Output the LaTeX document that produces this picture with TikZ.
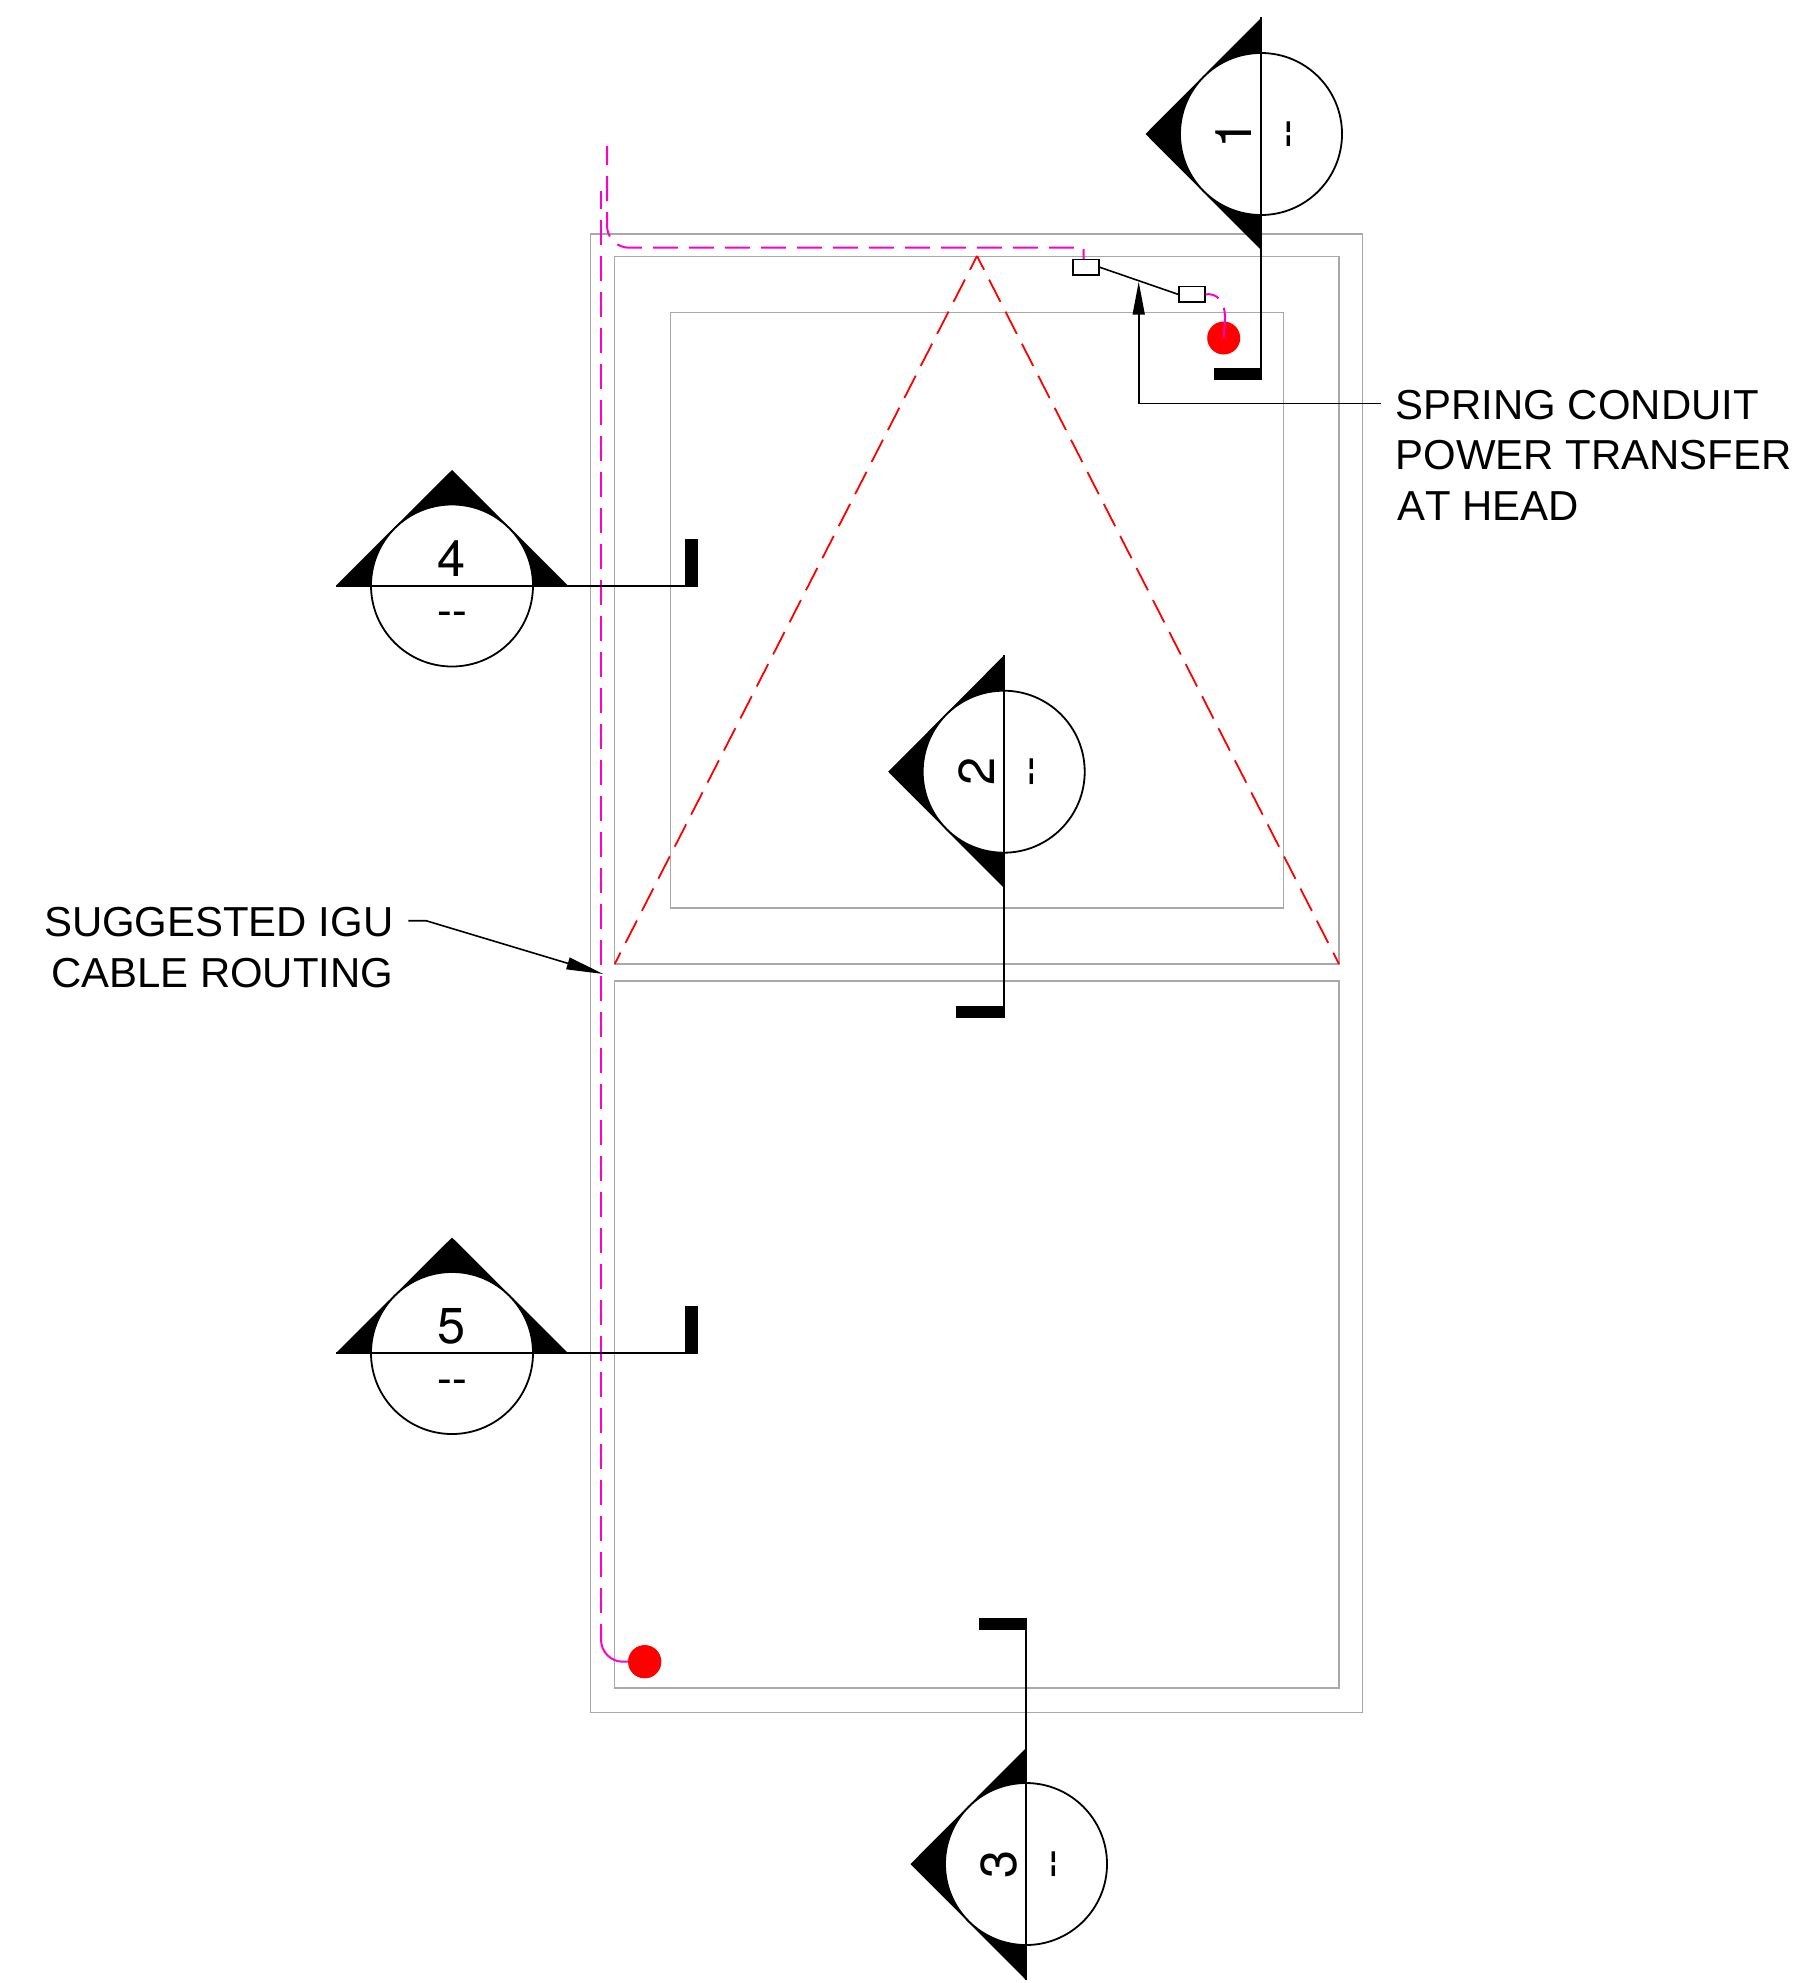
\documentclass[tikz,border=0pt]{standalone}
\usepackage{fontspec}
\setmainfont[Kerning=Off]{Liberation Sans}
\newfontfamily\digitfont{TeX Gyre Heros}
\usetikzlibrary{arrows.meta}
\definecolor{framegray}{HTML}{A8A8A8}
\definecolor{cablepink}{HTML}{FF00C8}
\definecolor{hotred}{HTML}{FF0000}
\tikzset{
  framebox/.style={draw=framegray,line width=1.5pt},
  redline/.style={draw=hotred,line width=1.8pt,dash pattern=on 25pt off 11pt},
  cable/.style={draw=cablepink,line width=2pt},
  seccircle/.style={circle,draw=black,fill=white,line width=1.8pt,minimum size=162pt,inner sep=0pt},
  secdigit/.style={inner sep=0pt,font=\digitfont\fontsize{50.5}{50}\selectfont},
  secdash/.style={inner sep=0pt,anchor=base,font=\fontsize{44}{44}\selectfont},
  secline/.style={draw=black,line width=2pt},
  leader/.style={draw=black,line width=1.6pt},
  notelabel/.style={inner sep=0pt,font=\fontsize{41.9}{50.6}\selectfont},
  connbox/.style={draw=black,fill=white,line width=1.6pt,minimum width=26pt,minimum height=15.5pt,inner sep=0pt},
  hotdot/.style={circle,fill=hotred,minimum size=33pt,inner sep=0pt},
}
\newcommand{\vmarker}[4]{%
  \fill[black] (#2,#3-116)--(#2-115.5,#3)--(#2,#3+116)--cycle;
  \node[seccircle] (#1) at (#2,#3) {};
  \node[secdigit,rotate=90] (#1num) at (#2-27,#3) {#4};
  \node[secdash,rotate=90] (#1sheet) at (#2+27.7+12,#3) {-{}-};
}
\newcommand{\hmarker}[4]{%
  \fill[black] (#2-116,#3)--(#2,#3-115.5)--(#2+116,#3)--cycle;
  \node[seccircle] (#1) at (#2,#3) {};
  \node[secdigit] (#1num) at (#2,#3-26.5) {#4};
  \node[secdash] (#1sheet) at (#2,#3+28+12) {-{}-};
}
\begin{document}
\begin{tikzpicture}[x=1pt,y=-1pt]
\useasboundingbox (0,0) rectangle (1813,1983);
\fill[white] (0,0) rectangle (1813,1983);
% frames
\draw[framebox] (590.7,234) rectangle (1362.7,1712.7);
\draw[framebox] (614.7,256.7) rectangle (1339,964);
\draw[framebox] (670.3,312.7) rectangle (1283.3,908);
\draw[framebox] (614.7,981) rectangle (1339,1688);
% red triangle
\coordinate (apex) at (977,256);
\coordinate (baseL) at (614.7,964);
\coordinate (baseR) at (1339,964);
\draw[redline,dash phase=9.5pt] (apex) -- (baseL);
\draw[redline,dash phase=9.5pt] (apex) -- (baseR);
% cables
\coordinate (cableOneTop) at (607,146);
\coordinate (cableOneCorner) at (607,247.7);
\coordinate (cableOneRun) at (700,247.7);
\coordinate (cableOneKnee) at (1083.7,247.7);
\coordinate (boxAtop) at (1083.7,259.4);
\coordinate (cableTwoTop) at (601,191);
\coordinate (cableTwoBend) at (601,1625);
\coordinate (cableTwoCorner) at (601,1661.7);
\node[hotdot] (dotLow) at (644.7,1661.7) {};
\draw[cable,dash pattern=on 25pt off 11pt,dash phase=6pt]
  [rounded corners=22pt] (cableOneTop) -- (cableOneCorner) -- (cableOneRun)
  [sharp corners] -- (cableOneKnee) -- (boxAtop);
\draw[cable,dash pattern=on 25pt off 11pt,dash phase=7pt]
  (cableTwoTop) -- (cableTwoBend);
\draw[cable,rounded corners=22pt] (cableTwoBend) -- (cableTwoCorner) -- (dotLow.west);
\node[hotdot] at (dotLow) {};
\node[connbox] (boxA) at (1085.8,267.2) {};
\node[connbox] (boxB) at (1191.8,294.3) {};
\node[hotdot] (dotHigh) at (1223.7,338) {};
\draw[cable,dash pattern=on 14pt off 11pt on 60pt off 0pt]
  (boxB.east) .. controls (1216,293) and (1225,300) .. (1225,318) -- (dotHigh.center);
\draw[leader] (boxA.east) -- (boxB.west);
% section markers
\vmarker{mOne}{1261}{134}{1}
\coordinate (mOneTop) at (1261,17);
\coordinate (mOneEnd) at (1261,380);
\draw[secline] (mOneTop) -- (mOneEnd);
\fill[black] (1214,368) rectangle (mOneEnd);
\vmarker{mTwo}{1003.7}{771.7}{2}
\coordinate (mTwoTop) at (1003.7,655);
\coordinate (mTwoEnd) at (1003.7,1018);
\draw[secline] (mTwoTop) -- (mTwoEnd);
\fill[black] (956,1005.7) rectangle (mTwoEnd);
\vmarker{mThree}{1026}{1864}{3}
\coordinate (mThreeEnd) at (1026,1618);
\coordinate (mThreeBot) at (1026,1980);
\draw[secline] (mThreeEnd) -- (mThreeBot);
\fill[black] (978.7,1630.3) rectangle (mThreeEnd);
\hmarker{mFour}{452}{585.5}{4}
\coordinate (mFourL) at (336,585.5);
\coordinate (mFourEnd) at (698.3,585.5);
\draw[secline] (mFourL) -- (mFourEnd);
\fill[black] (685.3,538.7) rectangle (mFourEnd);
\hmarker{mFive}{452}{1353}{5}
\coordinate (mFiveL) at (336,1353);
\coordinate (mFiveEnd) at (698.3,1353);
\draw[secline] (mFiveL) -- (mFiveEnd);
\fill[black] (685.3,1306) rectangle (mFiveEnd);
% notes
\node[notelabel,anchor=base west] (noteSpring) at (1395.5,419) {SPRING CONDUIT};
\node[notelabel,anchor=base west] (noteSpringB) at (1395.5,469.6) {POWER TRANSFER};
\node[notelabel,anchor=base west] (noteSpringC) at (1397,520) {AT HEAD};
\node[notelabel,anchor=base east] (noteCable) at (393.5,936) {SUGGESTED IGU};
\node[notelabel,anchor=base east] (noteCableB) at (393.5,987) {CABLE ROUTING};
\coordinate (springStart) at (1380.7,403.3);
\coordinate (springTip) at (1138.7,281.7);
\draw[leader,-{Triangle[length=33pt,width=12pt]}] (springStart) -| (springTip);
\coordinate (cableStart) at (408.3,920.7);
\coordinate (cableKnee) at (426,920.7);
\coordinate (cableTip) at (603.3,974);
\draw[leader,-{Triangle[length=37pt,width=12pt]}] (cableStart) -- (cableKnee) -- (cableTip);
\end{tikzpicture}
\end{document}
